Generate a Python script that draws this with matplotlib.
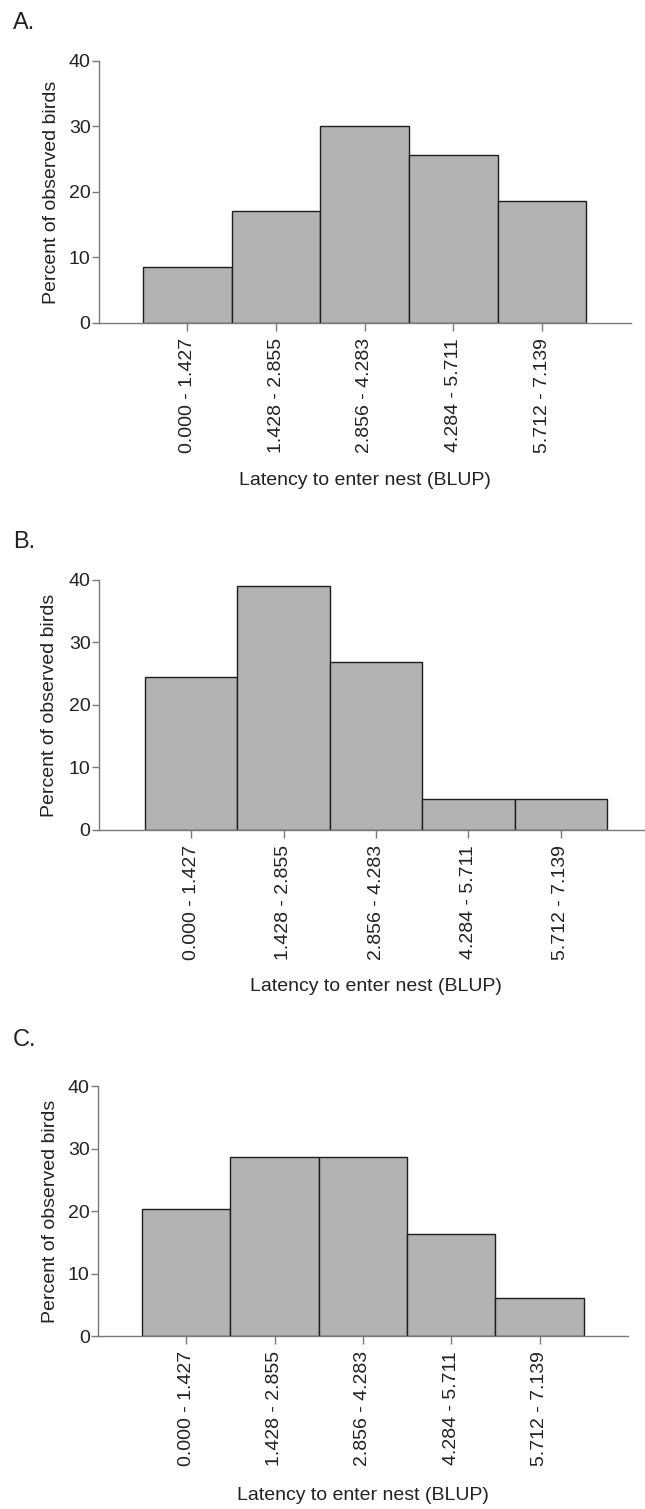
import matplotlib
matplotlib.use("Agg")
import matplotlib.pyplot as plt

plt.rcParams['font.family'] = ['Liberation Sans', 'DejaVu Sans']

bins = ["0.000 - 1.427", "1.428 - 2.855", "2.856 - 4.283", "4.284 - 5.711", "5.712 - 7.139"]
pct_a = [8.6, 17.1, 30.0, 25.7, 18.6]
pct_b = [24.4, 39.0, 26.8, 4.9, 4.9]
pct_c = [20.4, 28.6, 28.6, 16.3, 6.1]
panels = ["A.", "B.", "C."]
yticks = [0, 10, 20, 30, 40]

fig = plt.figure(figsize=(6.45, 15.09), dpi=100)

# axes boxes in figure fractions (left, bottom, width, height)
boxes = [
    [0.1532, 0.7860, 0.8248, 0.1736],
    [0.1532, 0.4500, 0.8595, 0.1657],
    [0.1519, 0.1146, 0.8217, 0.1657],
]
label_y = [0.985, 0.641, 0.311]
xlab_y = [-0.569, -0.592, -0.604]

spine_col = "#7a7a7a"
for i, vals in enumerate([pct_a, pct_b, pct_c]):
    ax = fig.add_axes(boxes[i])
    ax.bar(range(len(bins)), vals, width=1.0, color="#b3b3b3",
           edgecolor="#1e1e1e", linewidth=1.0)
    ax.set_xlim(-1, 5)
    ax.set_ylim(0, 40)
    ax.set_yticks(yticks)
    ax.set_xticks(range(len(bins)))
    ax.set_xticklabels(bins, rotation=90, fontsize=14, color="#222222")
    ax.tick_params(axis="y", labelsize=14, labelcolor="#222222", length=5,
                   width=1, color=spine_col, pad=1)
    ax.tick_params(axis="x", length=6, width=1, color=spine_col, pad=5)
    for s in ["top", "right"]:
        ax.spines[s].set_visible(False)
    for s in ["left", "bottom"]:
        ax.spines[s].set_color(spine_col)
        ax.spines[s].set_linewidth(1.0)
    ax.set_ylabel("Percent of observed birds", fontsize=14, color="#222222")
    ax.yaxis.set_label_coords(-0.073, 0.5)
    ax.set_xlabel("Latency to enter nest (BLUP)", fontsize=14, color="#222222")
    ax.xaxis.set_label_coords(0.5, xlab_y[i])
    fig.text(0.02, label_y[i], panels[i], fontsize=17, color="#222222",
             ha="left", va="center")

fig.savefig("out.png", dpi=100, facecolor="white")
